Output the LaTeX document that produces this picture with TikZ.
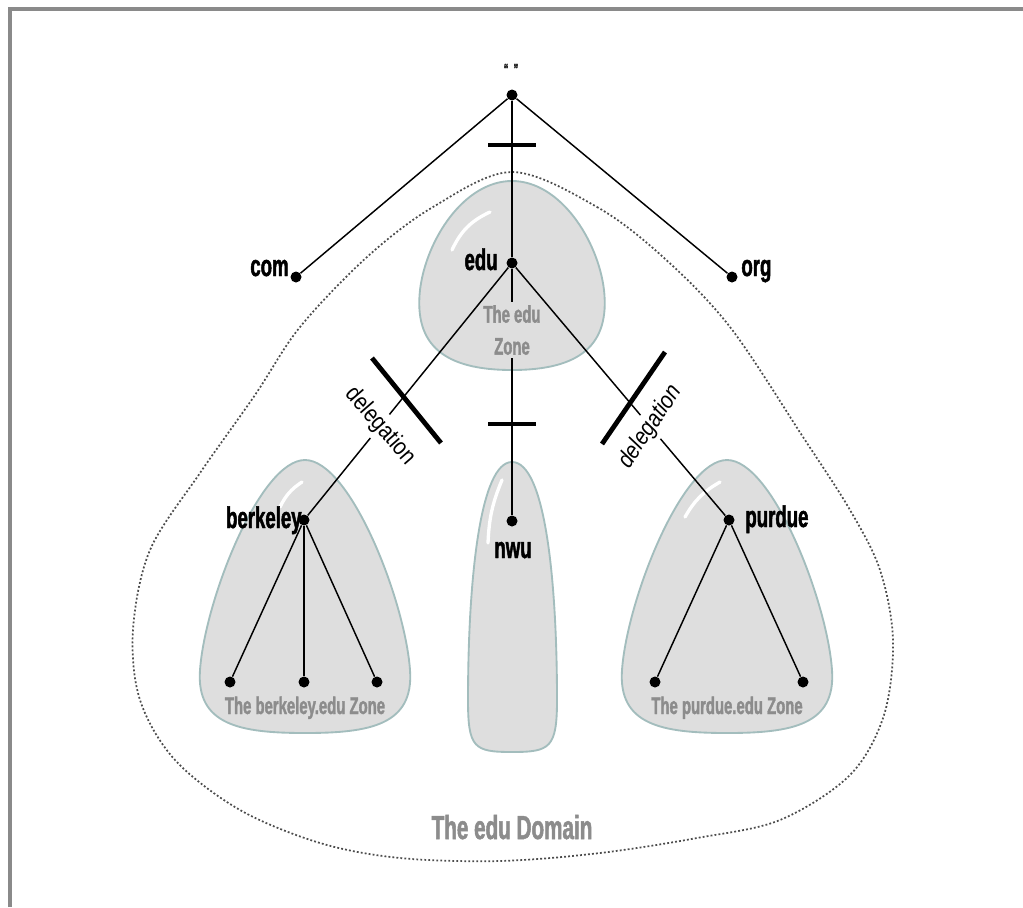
\documentclass[tikz,border=0pt]{standalone}
\usepackage{fontspec}
\newfontfamily\condfont{Liberation Sans}[FakeStretch=0.62,BoldFeatures={FakeBold=1.5}]
\newfontfamily\delfont{Liberation Sans}[FakeStretch=0.85]
\usepackage{tikz}
\usetikzlibrary{calc}
\usetikzlibrary{positioning}
\definecolor{zoneFill}{HTML}{DEDEDE}
\definecolor{zoneEdge}{HTML}{A3BDBD}
\definecolor{zoneText}{HTML}{8C8C8C}
\definecolor{frameGray}{HTML}{8A8A8A}
\tikzset{every picture/.style={semithick}}

\begin{document}
\begin{tikzpicture}[x=0.75pt,y=-0.75pt,
    dot/.style={circle,fill=black,inner sep=0pt,minimum size=8.25pt},
    lbl/.style={font=\condfont\bfseries\fontsize{22.5}{24}\selectfont,inner sep=0pt},
    zonelbl/.style={font=\condfont\bfseries\fontsize{18}{24}\selectfont,text=zoneText,inner sep=0pt},
    deleg/.style={font=\delfont\fontsize{18}{20}\selectfont,inner sep=2.5pt},
    delegit/.style={deleg,font=\delfont\itshape\fontsize{18}{20}\selectfont},
    zone/.style={fill=zoneFill,draw=zoneEdge,line width=1.4pt},
    gloss/.style={white,line width=2.5pt,line cap=round},
    delegbar/.style={line width=3.6pt},
    link/.style={line width=1.1pt},
    dombound/.style={draw=black!70,line width=1.3pt,dash pattern=on 1.4pt off 1.6pt}]
  \useasboundingbox (0,0) rectangle (1023,907);
  \draw[frameGray,line width=3pt] (10,907) -- (10,8.5) -- (1023,8.5);

  % the edu domain
  \draw[dombound] plot[smooth cycle,tension=0.55] coordinates {
    (512,172) (597,207) (663,257) (730,327) (803,437) (850,510) (880,570)
    (893,640) (884,715) (850,775) (780,820) (697,838) (600,853) (500,861)
    (400,858) (320,843) (240,810) (175,760) (140,700) (133,630) (150,550)
    (200,473) (255,395) (300,327) (367,257) (433,207)};

  % zones
  \filldraw[zone] (512,181) .. controls (560,181) and (598,240) .. (604,290)
    .. controls (610,345) and (580,370) .. (512,370)
    .. controls (444,370) and (414,345) .. (420,290)
    .. controls (426,240) and (464,181) .. (512,181) -- cycle;
  \filldraw[zone] (305,460) .. controls (350,460) and (405,600) .. (410,670)
    .. controls (414,725) and (370,733) .. (305,733)
    .. controls (240,733) and (196,725) .. (200,670)
    .. controls (205,600) and (260,460) .. (305,460) -- cycle;
  \filldraw[zone] (727,460) .. controls (772,460) and (827,600) .. (832,670)
    .. controls (836,725) and (792,733) .. (727,733)
    .. controls (662,733) and (618,725) .. (622,670)
    .. controls (627,600) and (682,460) .. (727,460) -- cycle;
  \filldraw[zone] (512,462) .. controls (545,462) and (557,580) .. (557,700)
    .. controls (557,748) and (550,752) .. (512,752)
    .. controls (474,752) and (468,748) .. (468,700)
    .. controls (468,580) and (480,462) .. (512,462) -- cycle;
  \draw[gloss] (452,250) to[bend left=20] (490,212);
  \draw[gloss] (280,507) to[bend left=15] (302,482);
  \draw[gloss] (685,517) to[bend left=15] (720,482);
  \draw[gloss] (488,543) to[bend left=10] (502,480);

  % names
  \node[dot] (root) at (512,95) {};
  \node[dot] (com) at (296,277) {};
  \node[dot] (org) at (732,277) {};
  \node[dot] (edu) at (512,263) {};
  \node[dot] (berkeley) at (304,520) {};
  \node[dot] (nwu) at (512,521) {};
  \node[dot] (purdue) at (729,520) {};
  \node[dot] (bk1) at (230,682) {};
  \node[dot] (bk2) at (304,682) {};
  \node[dot] (bk3) at (377,682) {};
  \node[dot] (pu1) at (655,682) {};
  \node[dot] (pu2) at (803,682) {};

  \node[font=\condfont\bfseries\fontsize{11}{11}\selectfont] (rootlbl) at (511,69) {“\hspace{4pt}”};
  \node[lbl,anchor=base east] (comlbl) at (289,276) {com};
  \node[lbl,anchor=base west] (orglbl) at (741,276) {org};
  \node[lbl,anchor=base east] (edulbl) at (498,270) {edu};
  \node[lbl,anchor=base east] (berkeleylbl) at (302,528) {berkeley};
  \node[lbl,anchor=base west] (purduelbl) at (745,527) {purdue};
  \node[lbl,anchor=base] (nwulbl) at (513,558) {nwu};

  \node[zonelbl,align=center,inner ysep=2.25pt] (eduzone) at (512,330) {The edu\\Zone};
  \node[zonelbl,anchor=base] (bkzone) at (305,714) {The berkeley.edu Zone};
  \node[zonelbl,anchor=base] (puzone) at (727,714) {The purdue.edu Zone};
  \node[zonelbl,anchor=base,font=\condfont\bfseries\fontsize{25}{28}\selectfont] (domlbl) at (512,839) {The edu Domain};

  \node[deleg,rotate=-49] (delegL) at ($(edu)!0.635!(berkeley)$) {delegation};
  \node[delegit,rotate=56] (delegR) at ($(edu)!0.638!(purdue)$) {delegation};

  % links
  \draw[link] (root) -- (com);
  \draw[link] (root) -- (org);
  \draw[link] (root) -- (edu);
  \draw[link] (edu) -- (eduzone);
  \draw[link] (eduzone) -- (nwu);
  \draw[link] (edu) -- (delegL) -- (berkeley);
  \draw[link] (edu) -- (delegR) -- (purdue);
  \foreach \n in {bk1,bk2,bk3}
    \draw[link] (berkeley) -- (\n);
  \foreach \n in {pu1,pu2}
    \draw[link] (purdue) -- (\n);

  % zone cuts
  \draw[delegbar] (488,145) -- (536,145);
  \draw[delegbar] (488,424) -- (536,424);
  \draw[delegbar] (372,358) -- (441,443);
  \draw[delegbar] (602,444) -- (665,352);
\end{tikzpicture}
\end{document}
